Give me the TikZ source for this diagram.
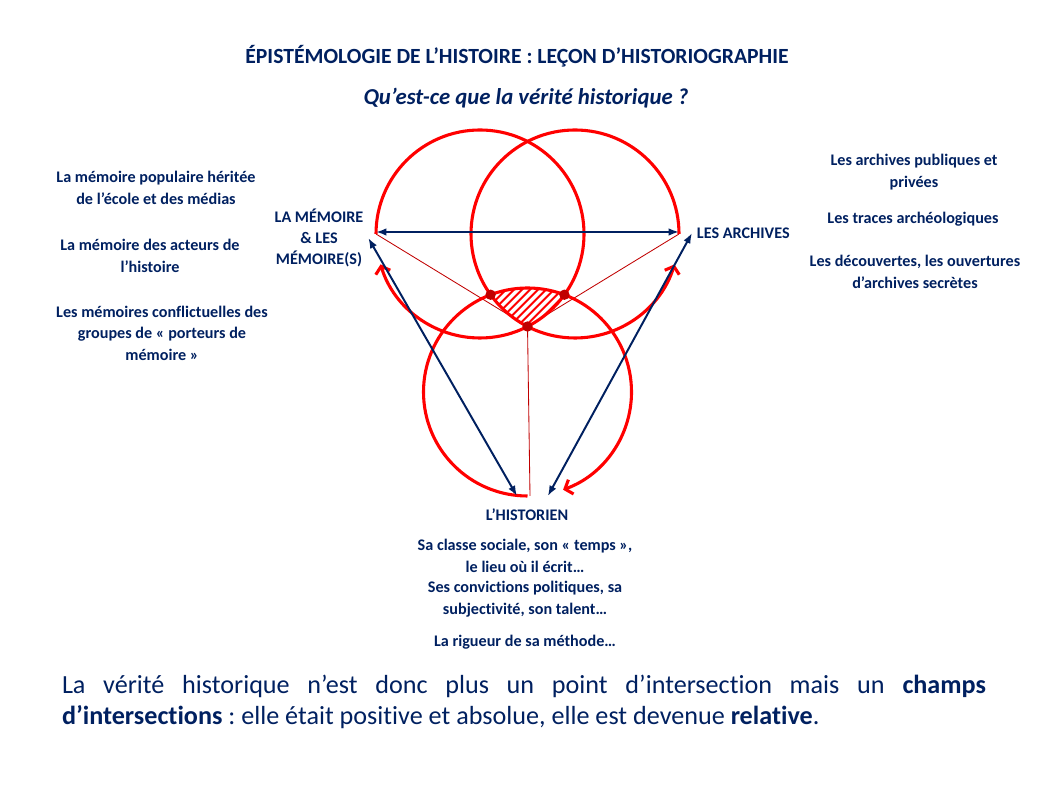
\documentclass[tikz,border=0pt]{standalone}
\usepackage{fontspec}
\setmainfont{Carlito}[Ligatures=NoCommon]
\frenchspacing
\usetikzlibrary{arrows.meta,calc,patterns.meta,positioning}
\definecolor{inknavy}{RGB}{0,32,96}
\definecolor{ringred}{RGB}{255,0,0}
\definecolor{dotred}{RGB}{192,0,0}
\tikzset{
  ring/.style={ringred,line width=2.2pt,-{Straight Barb[length=1.6mm,width=3.8mm]}},
  ray/.style={dotred,line width=0.6pt},
  link/.style={inknavy,line width=1.4pt,{Latex[length=2.6mm,width=1.9mm]}-{Latex[length=2.6mm,width=1.9mm]}},
  hit/.style={circle,fill=dotred,inner sep=0pt,minimum size=2.6mm},
  head/.style={text=inknavy,font=\fontsize{15.4}{18}\selectfont\bfseries},
  pole/.style={text=inknavy,font=\fontsize{11.5}{15}\selectfont\bfseries,align=center},
  fact/.style={text=inknavy,font=\fontsize{11.5}{15.3}\selectfont\bfseries,align=center},
  concl/.style={text=inknavy,font=\fontsize{18.6}{22}\selectfont,text width=23.1cm,align=justify},
}
\begin{document}
\begin{tikzpicture}[x=1cm,y=1cm]
  \path[use as bounding box] (0,0) rectangle (26.05,19.7);
  \node[head] (title) at (12.925,18.3)
    {ÉPISTÉMOLOGIE DE L’HISTOIRE : LEÇON D’HISTORIOGRAPHIE};
  \node[head,font=\fontsize{16.2}{18}\selectfont\bfseries\itshape] (question) at (13.15,17.25)
    {Qu’est-ce que la vérité historique ?};

  % centres of the three circles
  \coordinate (cMem) at (12.0,13.85);
  \coordinate (cArc) at (14.375,13.85);
  \coordinate (cHis) at (13.1875,9.9);
  \coordinate (memEnd) at ($(cMem)+(180:2.6)$);
  \coordinate (arcEnd) at ($(cArc)+(0:2.6)$);
  \coordinate (hisEnd) at (13.25,7.3);
  \coordinate (core) at (13.1875,11.537);

  \draw[ray] (memEnd) -- (core);
  \draw[ray] (arcEnd) -- (core);
  \draw[ray] (core) -- (hisEnd);

  \begin{scope}
    \clip (cMem) circle[radius=2.6];
    \clip (cArc) circle[radius=2.6];
    \fill[pattern={Lines[angle=45,distance=4pt,line width=1.5pt]},pattern color=ringred]
      (cHis) circle[radius=2.6];
  \end{scope}

  \draw[ring] (memEnd) arc[start angle=180,end angle=-163,radius=2.6];
  \draw[ring] (arcEnd) arc[start angle=0,end angle=343,radius=2.6];
  \draw[ring] ($(cHis)+(270:2.6)$) arc[start angle=270,end angle=-70,radius=2.6];

  \node[hit] (coreDot) at (core) {};
  \node[hit] (leftDot) at (12.265,12.331) {};
  \node[hit] (rightDot) at (14.110,12.331) {};

  \node[pole] (memory) at (7.975,13.75) {LA MÉMOIRE\\\& LES\\MÉMOIRE(S)};
  \node[pole,anchor=west] (archives) at (17.3,13.875) {LES ARCHIVES};
  \node[pole] (historian) at (13.175,6.825) {L’HISTORIEN};

  \draw[link] ([yshift=0.05cm]memEnd) -- ([yshift=0.05cm]arcEnd);
  \draw[link] (memory.east) -- ([xshift=-0.25cm,yshift=0.2cm]historian.north);
  \draw[link] ([xshift=0.52cm,yshift=0.2cm]historian.north) -- (archives.west);

  \node[fact] (popular) at (3.9,15.0) {La mémoire populaire héritée\\de l’école et des médias};
  \node[fact] (actors) at (3.75,13.3) {La mémoire des acteurs de\\l’histoire};
  \node[fact] (conflict) at (4.05,11.375)
    {Les mémoires conflictuelles des\\groupes de «~porteurs de\\mémoire~»};

  \node[fact] (public) at (22.85,15.4) {Les archives publiques et\\privées};
  \node[fact] (traces) at (22.825,14.225) {Les traces archéologiques};
  \node[fact] (finds) at (22.875,12.9) {Les découvertes, les ouvertures\\d’archives secrètes};

  \node[fact] (social) at (13.125,5.8) {Sa classe sociale, son «~temps~»,\\le lieu où il écrit…};
  \node[fact] (beliefs) at (13.125,4.725) {Ses convictions politiques, sa\\subjectivité, son talent…};
  \node[fact] (method) at (13.125,3.65) {La rigueur de sa méthode…};

  \node[concl] (verdict) at (13.1,2.15)
    {La vérité historique n’est donc plus un point d’intersection mais un \textbf{champs}\linebreak
     \textbf{d’intersections} : elle était positive et absolue, elle est devenue \textbf{relative}.};
\end{tikzpicture}
\end{document}
